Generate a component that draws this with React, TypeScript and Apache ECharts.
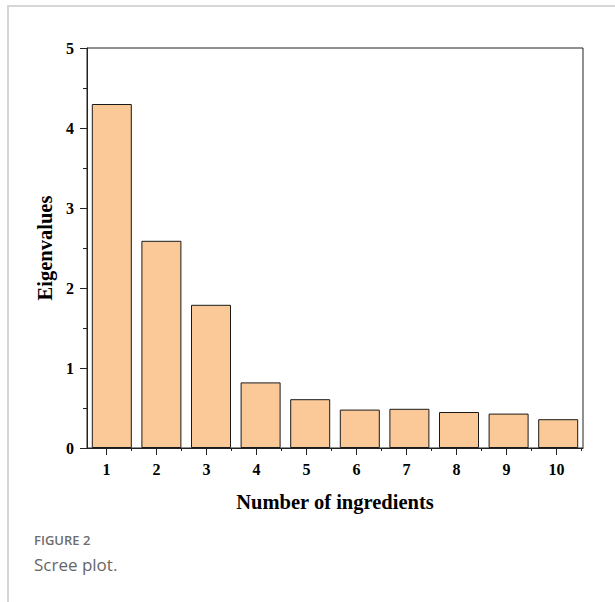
import React, { useEffect, useRef } from "react";
import * as echarts from "echarts";

const categories = ["1", "2", "3", "4", "5", "6", "7", "8", "9", "10"];
const eigenvalues = [4.3, 2.59, 1.79, 0.82, 0.61, 0.48, 0.49, 0.45, 0.43, 0.36];
const xTickValues = [1, 2, 3, 4, 5, 6, 7, 8, 9, 10];
const xMinorTickValues = [1.5, 2.5, 3.5, 4.5, 5.5, 6.5, 7.5, 8.5, 9.5, 10.5];
const yAxisTitle = "Eigenvalues";
const xAxisTitle = "Number of ingredients";
const figureLabel = "FIGURE 2";
const figureCaption = "Scree plot.";

const SERIF = "'Liberation Serif', 'Times New Roman', serif";

export default function App() {
  const ref = useRef<HTMLDivElement>(null);
  useEffect(() => {
    if (!ref.current) return;
    const chart = echarts.init(ref.current, null, { renderer: "svg" });
    const axisColor = "#222";
    chart.setOption({
      animation: false,
      backgroundColor: "#fff",
      grid: {
        left: 87,
        top: 48,
        width: 496,
        height: 400,
        show: true,
        borderColor: axisColor,
        borderWidth: 1,
        backgroundColor: "transparent",
      },
      xAxis: [
        {
          type: "category",
          data: categories,
          show: false,
          boundaryGap: true,
        },
        {
          type: "value",
          position: "bottom",
          min: 0.61,
          max: 10.53,
          name: xAxisTitle,
          nameLocation: "middle",
          nameGap: 43,
          nameTextStyle: { fontFamily: SERIF, fontWeight: "bold", fontSize: 20.5, color: "#000" },
          axisLine: { show: true, lineStyle: { color: axisColor, width: 1 } },
          axisTick: {
            show: true,
            inside: false,
            length: 7,
            customValues: xTickValues,
            lineStyle: { color: axisColor, width: 1 },
          },
          axisLabel: {
            show: true,
            customValues: xTickValues,
            margin: 13,
            fontFamily: SERIF,
            fontWeight: "bold",
            fontSize: 16,
            color: "#000",
          },
          splitLine: { show: false },
        },
        {
          type: "value",
          position: "bottom",
          min: 0.61,
          max: 10.53,
          axisLine: { show: false },
          axisTick: {
            show: true,
            length: 3,
            customValues: xMinorTickValues,
            lineStyle: { color: axisColor, width: 1 },
          },
          axisLabel: { show: false },
          splitLine: { show: false },
        },
      ],
      yAxis: {
        type: "value",
        min: 0,
        max: 5,
        interval: 1,
        name: yAxisTitle,
        nameLocation: "middle",
        nameGap: 24,
        nameRotate: 90,
        nameTextStyle: { fontFamily: SERIF, fontWeight: "bold", fontSize: 20.5, color: "#000" },
        axisLine: { show: true, lineStyle: { color: axisColor, width: 1 } },
        axisTick: { show: true, length: 7, lineStyle: { color: axisColor, width: 1 } },
        minorTick: { show: true, splitNumber: 2, length: 4, lineStyle: { color: axisColor, width: 1 } },
        axisLabel: {
          margin: 13,
          fontFamily: SERIF,
          fontWeight: "bold",
          fontSize: 16,
          color: "#000",
        },
        splitLine: { show: false },
        minorSplitLine: { show: false },
      },
      series: [
        {
          type: "bar",
          xAxisIndex: 0,
          data: eigenvalues,
          barWidth: 40,
          itemStyle: { color: "#FBC997", borderColor: "#1a1a1a", borderWidth: 1 },
        },
      ],
      graphic: [
        {
          type: "rect",
          shape: { x: 8, y: 6, width: 700, height: 700 },
          style: { fill: "none", stroke: "#d6d6d6", lineWidth: 2 },
          silent: true,
        },
        {
          type: "text",
          left: 34,
          top: 533,
          style: {
            text: figureLabel,
            fontFamily: "'Open Sans', sans-serif",
            fontSize: 13,
            fontWeight: 600,
            fill: "#6d6d6d",
          },
        },
        {
          type: "text",
          left: 34,
          top: 556,
          style: {
            text: figureCaption,
            fontFamily: "'Open Sans', sans-serif",
            fontSize: 17,
            fill: "#666",
          },
        },
      ],
    });
    return () => chart.dispose();
  }, []);
  return (
    <div
      ref={ref}
      style={{ position: "absolute", left: 0, top: 0, width: 615, height: 602 }}
    />
  );
}
